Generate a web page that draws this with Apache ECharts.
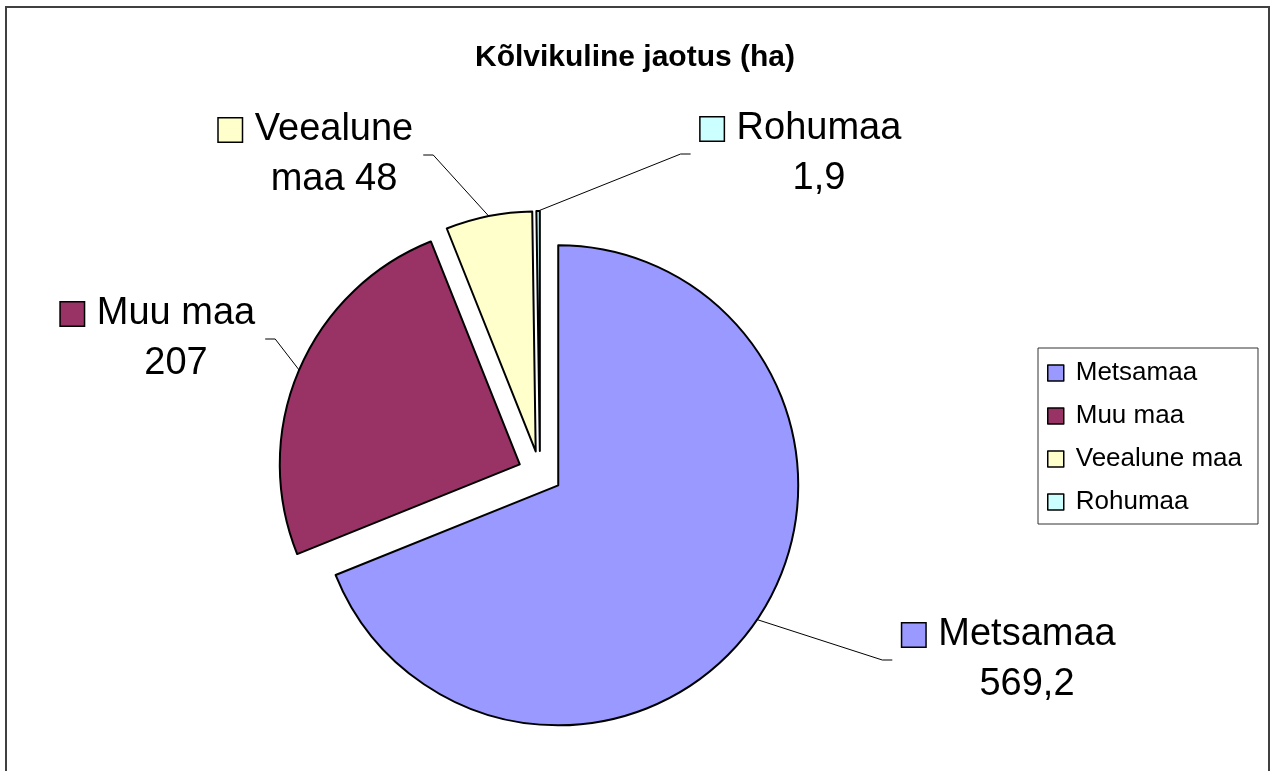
<!DOCTYPE html>
<html><head><meta charset="utf-8">
<script src="https://cdn.jsdelivr.net/npm/echarts@6/dist/echarts.min.js"></script>
<style>html,body{margin:0;padding:0;background:#fff}#c{width:1270px;height:771px}</style>
</head><body><div id="c"></div>
<script>
const categories = ['Metsamaa', 'Muu maa', 'Veealune maa', 'Rohumaa'];
const values = [569.2, 207, 48, 1.9];
const colors = ['#9999FF', '#993366', '#FFFFCC', '#CCFFFF'];
const titleText = 'Kõlvikuline jaotus (ha)';

const FONT = '"Liberation Sans", Arial, sans-serif';
const BASE_CENTER = [540, 473];
const RADIUS = 240;
const EXPLODE = 22;
// label block anchor positions (layout only)
const labelAnchor = [[1009, 660], [158, 339], [316, 155], [801, 154]];

function fmt(v) { return String(v).replace('.', ','); }

const rich = {
  t: { fontSize: 38, fontFamily: FONT, color: '#000', lineHeight: 50, padding: [0, 0, 0, 13] },
  v: { fontSize: 38, fontFamily: FONT, color: '#000', lineHeight: 50, padding: [0, 0, 0, 36] }
};
colors.forEach((c, i) => {
  rich['s' + i] = { width: 23, height: 23, backgroundColor: c, borderColor: '#000', borderWidth: 1.5, verticalAlign: 'middle' };
});

const total = values.reduce((a, b) => a + b, 0);
let cum = 0;
const series = categories.map((name, i) => {
  const mid = (cum + values[i] / 2) / total * 2 * Math.PI;
  cum += values[i];
  const cx = BASE_CENTER[0] + EXPLODE * Math.sin(mid);
  const cy = BASE_CENTER[1] - EXPLODE * Math.cos(mid);
  return {
    type: 'pie',
    center: [cx, cy], radius: RADIUS,
    startAngle: 90, clockwise: true,
    selectedMode: false, avoidLabelOverlap: false, silent: true,
    emphasis: { disabled: true },
    label: {
      show: true, position: 'outside', padding: [2, 10],
      backgroundColor: 'rgba(255,255,255,0)',
      formatter: function (p) {
        const nm = p.name;
        const words = nm.split(' ');
        let l1 = nm, l2 = fmt(p.value);
        if (nm.length > 10 && words.length > 1) {
          l1 = words[0];
          l2 = words.slice(1).join(' ') + ' ' + fmt(p.value);
        }
        return '{s' + p.dataIndex + '|}{t|' + l1 + '}\n{v|' + l2 + '}';
      },
      rich: rich
    },
    labelLine: { show: true, length: 10, length2: 10, lineStyle: { color: '#000', width: 1 } },
    labelLayout: function (params) {
      const a = labelAnchor[params.dataIndex];
      return { x: a[0], y: a[1], align: 'center', verticalAlign: 'middle' };
    },
    data: categories.map((n, j) => j === i
      ? { name: n, value: values[j], itemStyle: { color: colors[j], borderColor: '#000', borderWidth: 2 } }
      : { name: n, value: values[j], itemStyle: { color: colors[j], opacity: 0, borderWidth: 0 }, label: { show: false }, labelLine: { show: false } })
  };
});

const chart = echarts.init(document.getElementById('c'), null, { renderer: 'canvas' });
chart.setOption({
  animation: false,
  backgroundColor: '#fff',
  title: {
    text: titleText, left: 'center', top: 38,
    textStyle: { fontSize: 30, fontWeight: 'bold', color: '#000', fontFamily: FONT }
  },
  graphic: [{
    type: 'rect', shape: { x: 6, y: 7, width: 1263, height: 800 },
    style: { fill: 'none', stroke: '#404040', lineWidth: 2 }, silent: true
  }],
  legend: {
    orient: 'vertical', left: 1038, top: 348,
    padding: [10, 16, 7, 9],
    itemWidth: 16, itemHeight: 16, itemGap: 13,
    icon: 'rect',
    borderColor: '#333', borderWidth: 1,
    selectedMode: false,
    textStyle: { fontSize: 26, color: '#000', fontFamily: FONT, lineHeight: 30, padding: [0, 0, 0, 7] },
    data: categories.map((n, i) => ({ name: n, itemStyle: { color: colors[i], opacity: 1, borderColor: '#000', borderWidth: 1.5 } }))
  },
  series: series
});
</script>
</body></html>
